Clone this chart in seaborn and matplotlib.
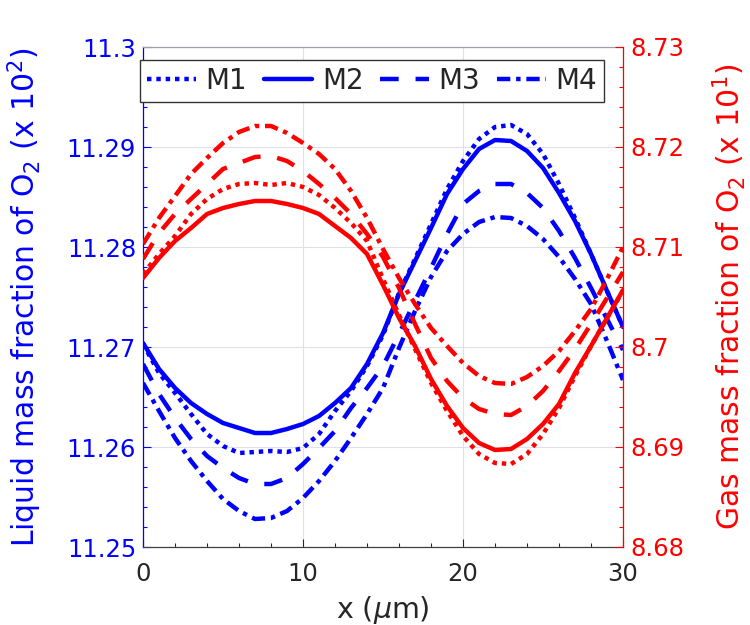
import numpy as np
import pandas as pd
import matplotlib
matplotlib.use("Agg")
import matplotlib.pyplot as plt
from matplotlib.ticker import MultipleLocator, FuncFormatter
import seaborn as sns

# ---------------- data ----------------
x_um = list(range(31))

series_names = ["M1", "M2", "M3", "M4"]

liquid_M1 = [11.2703, 11.2674, 11.2654, 11.2633, 11.2613, 11.2601, 11.2594, 11.2595, 11.2596, 11.2595,
             11.2599, 11.2613, 11.2636, 11.2656, 11.2681, 11.2712, 11.2754, 11.2788, 11.2823, 11.2858,
             11.2886, 11.2908, 11.2920, 11.2922, 11.2913, 11.2893, 11.2863, 11.2829, 11.2793, 11.2756,
             11.2720]
liquid_M2 = [11.2704, 11.2678, 11.2659, 11.2644, 11.2633, 11.2624, 11.2619, 11.2614, 11.2614, 11.2618,
             11.2623, 11.2631, 11.2644, 11.2659, 11.2683, 11.2714, 11.2753, 11.2786, 11.2819, 11.2853,
             11.2878, 11.2898, 11.2907, 11.2906, 11.2896, 11.2879, 11.2854, 11.2826, 11.2793, 11.2756,
             11.2720]
liquid_M3 = [11.2683, 11.2653, 11.2629, 11.2608, 11.2591, 11.2579, 11.2569, 11.2563, 11.2563, 11.2569,
             11.2583, 11.2599, 11.2616, 11.2639, 11.2659, 11.2681, 11.2713, 11.2746, 11.2779, 11.2813,
             11.2843, 11.2856, 11.2863, 11.2863, 11.2854, 11.2839, 11.2816, 11.2789, 11.2759, 11.2728,
             11.2697]
liquid_M4 = [11.2664, 11.2636, 11.2609, 11.2586, 11.2566, 11.2548, 11.2536, 11.2528, 11.2529, 11.2536,
             11.2549, 11.2566, 11.2586, 11.2609, 11.2633, 11.2659, 11.2699, 11.2736, 11.2770, 11.2796,
             11.2813, 11.2825, 11.2830, 11.2829, 11.2821, 11.2808, 11.2790, 11.2768, 11.2743, 11.2706,
             11.2667]

gas_M1 = [8.7073, 8.7093, 8.7111, 8.7133, 8.7148, 8.7158, 8.7163, 8.7164, 8.7162, 8.7164,
          8.7160, 8.7152, 8.7139, 8.7124, 8.7106, 8.7068, 8.7032, 8.6998, 8.6964, 8.6936,
          8.6911, 8.6893, 8.6884, 8.6883, 8.6893, 8.6913, 8.6939, 8.6971, 8.7001, 8.7029,
          8.7056]
gas_M2 = [8.7069, 8.7089, 8.7106, 8.7119, 8.7133, 8.7139, 8.7143, 8.7146, 8.7146, 8.7143,
          8.7139, 8.7133, 8.7121, 8.7109, 8.7093, 8.7062, 8.7029, 8.7001, 8.6968, 8.6941,
          8.6919, 8.6904, 8.6897, 8.6898, 8.6908, 8.6923, 8.6943, 8.6974, 8.7001, 8.7029,
          8.7057]
gas_M3 = [8.7088, 8.7114, 8.7133, 8.7148, 8.7163, 8.7178, 8.7184, 8.7190, 8.7191, 8.7186,
          8.7176, 8.7163, 8.7149, 8.7133, 8.7113, 8.7090, 8.7059, 8.7023, 8.6989, 8.6966,
          8.6949, 8.6938, 8.6933, 8.6932, 8.6941, 8.6956, 8.6976, 8.6998, 8.7023, 8.7049,
          8.7075]
gas_M4 = [8.7103, 8.7129, 8.7151, 8.7173, 8.7189, 8.7204, 8.7215, 8.7221, 8.7221, 8.7214,
          8.7204, 8.7193, 8.7178, 8.7156, 8.7129, 8.7098, 8.7069, 8.7043, 8.7019, 8.7001,
          8.6984, 8.6971, 8.6964, 8.6963, 8.6970, 8.6981, 8.6996, 8.7016, 8.7038, 8.7068,
          8.7100]

x_ticks = [0, 10, 20, 30]
left_ticks = [11.25, 11.26, 11.27, 11.28, 11.29, 11.30]
right_ticks = [8.68, 8.69, 8.70, 8.71, 8.72, 8.73]

# ---------------- style ----------------
sns.set_style("white")
plt.rcParams['font.family'] = ['DejaVu Sans']
plt.rcParams['mathtext.fontset'] = 'dejavusans'

BLUE = (0, 0, 1)
RED = (1, 0, 0)
LW = 3.2
line_styles = {
    "M1": (0, (1.0, 1.1)),
    "M2": "-",
    "M3": (0, (4.2, 3.8)),
    "M4": (0, (3.0, 1.3, 1.0, 1.3)),
}

fig = plt.figure(figsize=(7.5, 6.25), dpi=100)
ax = fig.add_axes([0.1907, 0.1248, 0.640, 0.800])
ax2 = ax.twinx()

liquid = dict(zip(series_names, [liquid_M1, liquid_M2, liquid_M3, liquid_M4]))
gas = dict(zip(series_names, [gas_M1, gas_M2, gas_M3, gas_M4]))

df_liq = pd.DataFrame({"x": np.tile(x_um, 4),
                       "value": np.concatenate([liquid[n] for n in series_names]),
                       "model": np.repeat(series_names, len(x_um))})
df_gas = pd.DataFrame({"x": np.tile(x_um, 4),
                       "value": np.concatenate([gas[n] for n in series_names]),
                       "model": np.repeat(series_names, len(x_um))})

blue_handles = []
for n in series_names:
    sub = df_liq[df_liq["model"] == n]
    sns.lineplot(data=sub, x="x", y="value", ax=ax, color=BLUE, lw=LW,
                 linestyle=line_styles[n], legend=False, label=n)
    blue_handles.append(ax.lines[-1])
for n in series_names:
    sub = df_gas[df_gas["model"] == n]
    sns.lineplot(data=sub, x="x", y="value", ax=ax2, color=RED, lw=LW,
                 linestyle=line_styles[n], legend=False)

# ---------------- axes ----------------
ax.set_xlim(0, 30)
ax.set_ylim(11.25, 11.30)
ax2.set_ylim(8.68, 8.73)

fmt = FuncFormatter(lambda v, p: f"{v:g}")
ax.set_xticks(x_ticks)
ax.xaxis.set_minor_locator(MultipleLocator(2))
ax.set_yticks(left_ticks)
ax.yaxis.set_major_formatter(fmt)
ax.yaxis.set_minor_locator(MultipleLocator(0.002))
ax2.set_yticks(right_ticks)
ax2.yaxis.set_major_formatter(fmt)
ax2.yaxis.set_minor_locator(MultipleLocator(0.002))

TICK_FS = 17.5
LABEL_FS = 21.5
ax.tick_params(axis='x', which='both', direction='in', bottom=True, top=False,
               colors='#262626', labelsize=TICK_FS, pad=11)
ax.tick_params(axis='x', which='major', length=6, width=0.8)
ax.tick_params(axis='x', which='minor', length=3, width=0.8)
ax.tick_params(axis='y', which='both', direction='in', left=True, right=False,
               colors=BLUE, labelsize=TICK_FS, pad=5)
ax.tick_params(axis='y', which='major', length=6, width=0.8)
ax.tick_params(axis='y', which='minor', length=3, width=0.8)
ax2.tick_params(axis='y', which='both', direction='in', left=False, right=True,
                colors=RED, labelsize=TICK_FS, pad=5)
ax2.tick_params(axis='y', which='major', length=6, width=0.8)
ax2.tick_params(axis='y', which='minor', length=3, width=0.8)

ax.grid(True, which='major', color='#e0e0ea', lw=0.8)
ax.set_axisbelow(True)

for s in ["top", "bottom"]:
    ax.spines[s].set_color('#404040')
    ax.spines[s].set_linewidth(0.9)
    ax2.spines[s].set_visible(False)
ax.spines["top"].set_color('#a0a0a8')
ax.spines["left"].set_color(BLUE)
ax.spines["right"].set_visible(False)
ax2.spines["left"].set_visible(False)
ax2.spines["right"].set_color(RED)
ax.spines["left"].set_linewidth(0.9)
ax2.spines["right"].set_linewidth(0.9)

ax.set_xlabel("x ($\\mu$m)", fontsize=20.5, color='#262626')
ax.xaxis.set_label_coords(0.5, -0.093)
ax.set_ylabel("Liquid mass fraction of O$_2$ (x 10$^2$)", fontsize=LABEL_FS, color=BLUE)
ax.yaxis.set_label_coords(-0.206, 0.5)
ax2.set_ylabel("Gas mass fraction of O$_2$ (x 10$^1$)", fontsize=LABEL_FS, color=RED)
ax2.yaxis.set_label_coords(1.183, 0.5)

leg = ax2.legend(blue_handles, series_names, ncol=4, loc='upper left',
                 bbox_to_anchor=(-0.006, 0.974), fontsize=20,
                 handlelength=1.75, handletextpad=0.35, columnspacing=0.6,
                 borderpad=0.25, borderaxespad=0, frameon=True, fancybox=False,
                 edgecolor='#333333', framealpha=1)
leg.get_frame().set_linewidth(1.0)

fig.savefig("out.png", dpi=100)
